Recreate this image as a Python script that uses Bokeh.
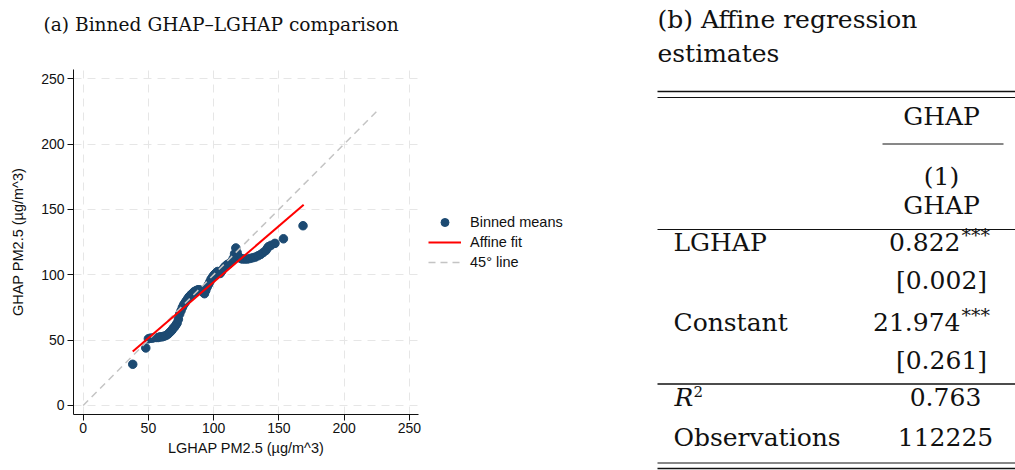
from bokeh.plotting import figure
from bokeh.layouts import row, column
from bokeh.models import Range1d, FixedTicker, Legend, LegendItem, ColumnDataSource
from bokeh.core.properties import value
from bokeh.embed import file_html
from bokeh.resources import INLINE

# ---------------- data ----------------
bin_x = [38, 48, 50, 51.5, 53, 54.5, 56, 57.5, 59, 60.5, 62, 63.5, 65, 66, 67, 68, 69, 70,
         71, 72, 73, 74, 75, 76, 77, 78, 79, 80, 81, 82, 83, 84, 85, 86, 87, 88, 89, 90,
         91, 92, 93, 94, 95, 96, 97, 98, 99, 100, 101, 102, 103, 104, 105, 106, 107, 108,
         109, 110, 111, 112, 113, 114, 115, 116, 117, 118, 119, 120, 121, 122, 124, 126,
         128, 130, 132, 134, 136, 138, 140, 141, 142, 144, 147, 153.5, 168.5]
bin_y = [31.5, 44, 51, 51.5, 51.5, 52, 52, 52, 52.5, 52.5, 53, 53.5, 54.5, 55.5, 56.5, 57.5,
         59, 60, 61.5, 63, 66, 70, 72.5, 75, 77, 78.5, 80, 81.5, 83, 84, 85, 86, 87, 87.5,
         88, 88.5, 88.5, 88, 87.5, 86.5, 85.5, 88, 90.5, 92.5, 94.5, 96.5, 98, 99.5, 100.5,
         101.5, 102.5, 102, 101, 102.5, 104, 105.5, 106.5, 107.5, 108, 108.5, 109.5, 110.5,
         112.5, 116, 120.5, 117, 114, 113, 112.5, 112, 112, 112, 112.5, 113, 113.5, 114.5,
         115.5, 117, 118.5, 120, 121.5, 122.5, 124, 127.5, 137.5]
fit_x = [38, 169]
fit_slope = 0.857
fit_intercept = 8.7
diag_x = [0, 225]
ticks = [0, 50, 100, 150, 200, 250]

panel_a_title = "(a) Binned GHAP\u2013LGHAP comparison"
x_label = "LGHAP PM2.5 (\u00b5g/m^3)"
y_label = "GHAP PM2.5 (\u00b5g/m^3)"
legend_labels = ["Binned means", "Affine fit", "45\u00b0 line"]

panel_b_title = ["(b) Affine regression", "estimates"]
dep_var = "GHAP"
model_no = "(1)"
coef_labels = ["LGHAP", "Constant"]
coef_values = ["0.822", "21.974"]
coef_stars = ["***", "***"]
coef_se = ["[0.002]", "[0.261]"]
r2_value = "0.763"
n_obs = "112225"

NAVY = "#1c4a72"
RED = "#ff0000"
GREY = "#c4c4c4"
SANS = "Liberation Sans"
SERIF = "DejaVu Serif"


def blank_fig(w, h, x0, x1, y0, y1):
    f = figure(width=w, height=h, x_range=Range1d(x0, x1), y_range=Range1d(y1, y0),
               output_backend="svg", toolbar_location=None, min_border=0)
    f.frame_align = False
    f.axis.visible = False
    f.grid.visible = False
    f.outline_line_color = None
    f.background_fill_color = "white"
    f.border_fill_color = "white"
    return f


# ---------------- panel (a) title strip ----------------
t = blank_fig(640, 40, 0, 640, 0, 40)
t.text(x=[43], y=[24], text=[panel_a_title], text_align="left", text_baseline="alphabetic",
       text_font=value(SERIF), text_font_size=value("18.6px"), text_color="#111111")

# ---------------- panel (a) ----------------
p = figure(frame_width=345, frame_height=345,
           x_range=Range1d(-7.4, 257), y_range=Range1d(-6.9, 257),
           output_backend="svg", toolbar_location=None,
           min_border_left=73, min_border_right=10, min_border_top=29, min_border_bottom=56)
p.frame_align = False
p.outline_line_color = None
p.background_fill_color = "white"
p.border_fill_color = "white"

for ax in (p.xaxis[0], p.yaxis[0]):
    ax.ticker = FixedTicker(ticks=ticks)
    ax.minor_tick_line_color = None
    ax.major_tick_out = 6
    ax.major_tick_in = 0
    ax.axis_line_color = "#111111"
    ax.major_tick_line_color = "#111111"
    ax.major_label_text_font = SANS
    ax.major_label_text_font_size = "14px"
    ax.major_label_text_color = "#111111"
    ax.axis_label_text_font = SANS
    ax.axis_label_text_font_size = "14.5px"
    ax.axis_label_text_font_style = "normal"
    ax.axis_label_text_color = "#111111"
p.xaxis.axis_label = x_label
p.yaxis.axis_label = y_label
p.xaxis.major_label_standoff = 2
p.xaxis.axis_label_standoff = 4
p.yaxis.major_label_standoff = 3
p.yaxis.axis_label_standoff = 12

for g in (p.xgrid[0], p.ygrid[0]):
    g.ticker = FixedTicker(ticks=ticks)
    g.grid_line_color = "#e6e6e6"
    g.grid_line_dash = "8 6"
    g.grid_line_width = 1

src = ColumnDataSource(dict(x=bin_x, y=bin_y))
fit_y = [fit_intercept + fit_slope * v for v in fit_x]
p.scatter("x", "y", source=src, size=8.5, color=NAVY, line_color=NAVY)
p.line(diag_x, diag_x, line_color=GREY, line_width=1.5, line_dash="7 5")
p.line(fit_x, fit_y, line_color=RED, line_width=2)

# ---------------- legend area (right of panel a) ----------------
# the key renderers reuse the same series on an off-screen range, so only their legend keys show
lg = blank_fig(202, 430, 0, 202, 0, 430)
lg.extra_x_ranges = {"keys": Range1d(100000, 100001)}
k_sc = lg.scatter("x", "y", source=src, size=8.5, color=NAVY, line_color=NAVY, x_range_name="keys")
k_fit = lg.line(fit_x, fit_y, line_color=RED, line_width=2, x_range_name="keys")
k_diag = lg.line(diag_x, diag_x, line_color=GREY, line_width=1.5, line_dash="7 5", x_range_name="keys")
legend = Legend(items=[LegendItem(label=legend_labels[0], renderers=[k_sc]),
                       LegendItem(label=legend_labels[1], renderers=[k_fit]),
                       LegendItem(label=legend_labels[2], renderers=[k_diag])],
                location=(0, 198), orientation="vertical",
                border_line_color=None, background_fill_alpha=0,
                padding=2, margin=0, spacing=0,
                glyph_width=33, glyph_height=20, label_height=20, label_standoff=9,
                label_text_font=SANS, label_text_font_size="14.5px",
                label_text_color="#111111")
lg.add_layout(legend)

# ---------------- panel (b) ----------------
q = blank_fig(375, 470, 640, 1015, 0, 470)

TXT = dict(text_font=value(SERIF), text_font_size=value("25px"), text_color="#111111",
           text_baseline="alphabetic")
LEFT_X = 657
LAB_X = 673
COL_X = 941
STAR_X = 960

q.text(x=[LEFT_X, LEFT_X], y=[18.5, 52.5], text=panel_b_title, text_align="left", **TXT)

# rules
q.segment(x0=[657, 657], y0=[91, 468], x1=[1015, 1015], y1=[91, 468], line_color="#111111", line_width=1.6)
q.segment(x0=[657, 657, 657], y0=[97, 229, 462.5], x1=[1015, 1015, 1015],
          y1=[97, 229, 462.5], line_color="#111111", line_width=1.0)
q.segment(x0=[657], y0=[383.5], x1=[1015], y1=[383.5], line_color="#111111", line_width=1.4)
q.segment(x0=[882], y0=[143.5], x1=[1003], y1=[143.5], line_color="#111111", line_width=1.0)

# header
q.text(x=[COL_X, COL_X, COL_X], y=[116, 176, 205], text=[dep_var, model_no, dep_var],
       text_align="center", **TXT)

# coefficients
coef_y = [241.5 + 80 * i for i in range(len(coef_labels))]
se_y = [v + 38 for v in coef_y]
q.text(x=[LAB_X] * len(coef_labels), y=coef_y, text=coef_labels, text_align="left", **TXT)
q.text(x=[STAR_X] * len(coef_values), y=coef_y, text=coef_values, text_align="right", **TXT)
q.text(x=[STAR_X + 1] * len(coef_stars), y=[v - 7 for v in coef_y], text=coef_stars,
       text_align="left", text_font=value(SERIF), text_font_size=value("19px"),
       text_color="#111111", text_baseline="alphabetic")
q.text(x=[COL_X] * len(coef_se), y=se_y, text=coef_se, text_align="center", **TXT)

# statistics
q.text(x=[LAB_X + 1], y=[396.5], text=["R"], text_align="left", text_font_style="italic", **TXT)
q.text(x=[LAB_X + 20], y=[391], text=["2"], text_align="left", text_font=value(SERIF),
       text_font_size=value("15px"), text_color="#111111", text_baseline="alphabetic")
q.text(x=[LAB_X], y=[436.5], text=["Observations"], text_align="left", **TXT)
q.text(x=[945, 945], y=[396.5, 436.5], text=[r2_value, n_obs], text_align="center", **TXT)

layout = row(column(t, row(p, lg)), q)
open("out.html", "w").write(file_html(layout, INLINE))
